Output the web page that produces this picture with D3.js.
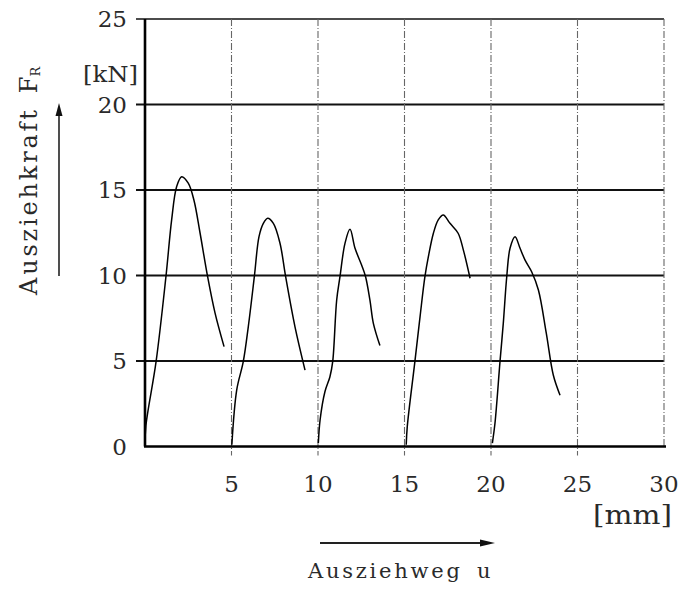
<!DOCTYPE html>
<html>
<head>
<meta charset="utf-8">
<script src="https://cdn.jsdelivr.net/npm/d3@7.9.0/dist/d3.min.js"></script>
<style>
  body { margin: 0; background: #fff; }
  svg { display: block; }
  text { font-family: "DejaVu Serif", serif; fill: #2a2a2a; }
</style>
</head>
<body>
<svg width="683" height="593"></svg>
<script>
// pull-out curves, [u in mm, F in kN]
const pull1 = [[0, 0], [0.05, 1.2], [0.64, 4.96], [1.21, 9.93], [1.54, 13.25], [1.83, 15.2],
  [2.12, 15.78], [2.5, 15.4], [2.83, 14.4], [3.18, 12.5], [3.62, 9.93], [4.05, 7.8], [4.57, 5.84]];
const pull2 = [[5.02, 0.1], [5.3, 3.3], [5.68, 4.96], [5.97, 7.0], [6.32, 9.93], [6.59, 12.27],
  [6.84, 13.05], [7.09, 13.35], [7.42, 13.05], [7.8, 11.9], [8.13, 9.93], [8.67, 7.0], [9.25, 4.47]];
const pull3 = [[10.02, 0.2], [10.12, 1.55], [10.4, 3.2], [10.69, 4.08], [10.85, 4.96], [11.08, 8.57],
  [11.27, 9.93], [11.56, 11.88], [11.85, 12.7], [12.14, 11.59], [12.52, 10.61], [12.75, 9.93],
  [13.0, 8.57], [13.2, 7.2], [13.58, 5.9]];
const pull4 = [[15.1, 0.1], [15.16, 1.16], [15.6, 4.96], [15.9, 7.6], [16.18, 9.93], [16.38, 11.1],
  [16.67, 12.47], [16.95, 13.25], [17.24, 13.54], [17.63, 13.05], [18.1, 12.47], [18.4, 11.5], [18.79, 9.84]];
const pull5 = [[20.08, 0.2], [20.23, 1.36], [20.52, 4.96], [20.71, 7.2], [20.91, 9.93], [21.1, 11.59],
  [21.39, 12.27], [21.68, 11.59], [21.97, 10.9], [22.35, 10.22], [22.74, 9.15], [23.2, 6.6],
  [23.6, 4.18], [23.99, 3.0]];
const curves = [pull1, pull2, pull3, pull4, pull5];

const yTicks = [0, 5, 10, 15, 20, 25];
const xTicks = [5, 10, 15, 20, 25, 30];

const svg = d3.select('svg');
const x = d3.scaleLinear().domain([0, 30]).range([145, 664]);
const y = d3.scaleLinear().domain([0, 25]).range([446.5, 19]);

// horizontal grid lines (solid) with small ticks to the left
svg.selectAll('.hgrid')
  .data(yTicks.filter(d => d > 0))
  .join('line')
  .attr('x1', x(0) - 9).attr('x2', x(30))
  .attr('y1', d => y(d)).attr('y2', d => y(d))
  .attr('stroke', '#111')
  .attr('stroke-width', d => d === 25 ? 1.5 : 1.8);

// vertical grid lines (broken, grey)
svg.selectAll('.vgrid')
  .data(xTicks)
  .join('line')
  .attr('x1', d => x(d)).attr('x2', d => x(d))
  .attr('y1', y(25)).attr('y2', d => d === 30 ? y(0) : y(0) + 9)
  .attr('stroke', '#666')
  .attr('stroke-width', 1.1)
  .attr('stroke-dasharray', '7,2,1,2');

// axes
svg.append('line')
  .attr('x1', x(0)).attr('x2', x(0)).attr('y1', y(25)).attr('y2', y(0))
  .attr('stroke', '#000').attr('stroke-width', 2.6);
svg.append('line')
  .attr('x1', x(0) - 1).attr('x2', x(30) + 2).attr('y1', y(0)).attr('y2', y(0))
  .attr('stroke', '#000').attr('stroke-width', 2.6);

// curves
const line = d3.line()
  .x(d => x(d[0]))
  .y(d => y(d[1]))
  .curve(d3.curveCatmullRom.alpha(0.5));

svg.selectAll('.curve')
  .data(curves)
  .join('path')
  .attr('d', line)
  .attr('fill', 'none')
  .attr('stroke', '#000')
  .attr('stroke-width', 1.5)
  .attr('stroke-linejoin', 'round');

// tick labels
svg.selectAll('.ylab')
  .data(yTicks)
  .join('text')
  .attr('x', 127)
  .attr('y', d => y(d) + 8)
  .attr('text-anchor', 'end')
  .attr('font-size', 23)
  .text(d => d);

svg.selectAll('.xlab')
  .data(xTicks)
  .join('text')
  .attr('x', d => x(d))
  .attr('y', 492)
  .attr('text-anchor', 'middle')
  .attr('font-size', 23)
  .text(d => d);

// units
svg.append('text').attr('x', 83).attr('y', 82).attr('font-size', 23)
  .attr('textLength', 55).attr('lengthAdjust', 'spacingAndGlyphs').text('[kN]');
svg.append('text').attr('x', 593).attr('y', 524).attr('font-size', 26)
  .attr('textLength', 79).attr('lengthAdjust', 'spacingAndGlyphs').text('[mm]');

// y axis title
const yt = svg.append('text')
  .attr('transform', 'translate(37,295) rotate(-90)')
  .attr('font-size', 24);
yt.append('tspan').attr('textLength', 185).attr('lengthAdjust', 'spacing').text('Ausziehkraft');
yt.append('tspan').attr('dx', 14).text('F');
yt.append('tspan').attr('font-size', 13).attr('dy', 3).text('R');

// x axis title
svg.append('text').attr('x', 308).attr('y', 578).attr('font-size', 21)
  .attr('textLength', 152).attr('lengthAdjust', 'spacing').text('Ausziehweg');
svg.append('text').attr('x', 477).attr('y', 578).attr('font-size', 21).text('u');

// arrows
svg.append('line').attr('x1', 59).attr('x2', 59).attr('y1', 276).attr('y2', 112)
  .attr('stroke', '#222').attr('stroke-width', 1.6);
svg.append('path').attr('d', 'M59,103 L55.5,116 L62.5,116 Z').attr('fill', '#111');
svg.append('line').attr('x1', 320).attr('x2', 482).attr('y1', 543).attr('y2', 543)
  .attr('stroke', '#222').attr('stroke-width', 1.8);
svg.append('path').attr('d', 'M495,543 L480,539.5 L480,546.5 Z').attr('fill', '#111');
</script>
</body>
</html>
